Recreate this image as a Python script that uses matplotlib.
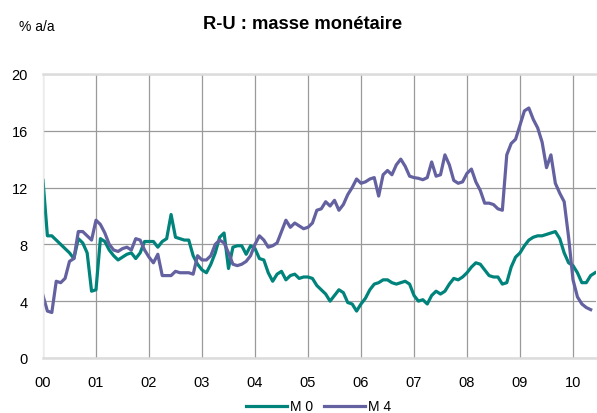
# R-U : masse monétaire (M0 et M4, % a/a)

import numpy as np
import matplotlib.pyplot as plt

plt.rcParams['font.family'] = ['Liberation Sans', 'DejaVu Sans']

# Monthly growth rates, Jan 2000 onwards (% a/a)
m0 = [12.5, 8.6, 8.6, 8.3, 8.0, 7.7, 7.4, 7.0, 8.4, 8.1, 7.4, 4.7,   # 2000
      4.8, 8.4, 8.2, 7.6, 7.2, 6.9, 7.1, 7.3, 7.4, 7.0, 7.4, 8.2,    # 2001
      8.2, 8.2, 7.8, 8.2, 8.4, 10.1, 8.5, 8.4, 8.3, 8.3, 7.2, 6.6,   # 2002
      6.2, 6.0, 6.6, 7.4, 8.5, 8.8, 6.3, 7.8, 7.9, 7.9, 7.3, 7.9,    # 2003
      7.7, 7.0, 6.9, 6.0, 5.4, 5.9, 6.1, 5.5, 5.8, 5.9, 5.6, 5.7,    # 2004
      5.7, 5.6, 5.1, 4.8, 4.5, 4.0, 4.4, 4.8, 4.6, 3.9, 3.8, 3.3,    # 2005
      3.8, 4.2, 4.8, 5.2, 5.3, 5.5, 5.5, 5.3, 5.2, 5.3, 5.4, 5.2,    # 2006
      4.4, 4.0, 4.1, 3.8, 4.4, 4.7, 4.5, 4.7, 5.2, 5.6, 5.5, 5.7,    # 2007
      6.0, 6.4, 6.7, 6.6, 6.2, 5.8, 5.7, 5.7, 5.2, 5.3, 6.4, 7.1,    # 2008
      7.4, 7.9, 8.3, 8.5, 8.6, 8.6, 8.7, 8.8, 8.9, 8.4, 7.4, 6.7,    # 2009
      6.5, 6.0, 5.3, 5.3, 5.8, 6.0]                                  # 2010

m4 = [4.4, 3.3, 3.2, 5.4, 5.3, 5.6, 6.8, 7.0, 8.9, 8.9, 8.6, 8.3,    # 2000
      9.7, 9.4, 8.8, 8.0, 7.6, 7.5, 7.7, 7.8, 7.6, 8.4, 8.3, 7.6,    # 2001
      7.1, 6.7, 7.3, 5.8, 5.8, 5.8, 6.1, 6.0, 6.0, 6.0, 5.9, 7.2,    # 2002
      6.9, 6.9, 7.2, 8.0, 8.3, 8.1, 7.4, 6.6, 6.5, 6.6, 6.8, 7.2,    # 2003
      8.0, 8.6, 8.3, 7.8, 7.9, 8.1, 8.9, 9.7, 9.2, 9.5, 9.3, 9.1,    # 2004
      9.2, 9.5, 10.4, 10.5, 11.0, 10.7, 11.1, 10.4, 10.8, 11.5, 12.0, 12.6,  # 2005
      12.3, 12.4, 12.6, 12.7, 11.4, 12.9, 13.2, 12.9, 13.6, 14.0, 13.5, 12.8,  # 2006
      12.7, 12.65, 12.55, 12.7, 13.8, 12.8, 12.9, 14.3, 13.6, 12.5, 12.3, 12.4,  # 2007
      13.0, 13.3, 12.4, 11.8, 10.9, 10.9, 10.8, 10.5, 10.4, 14.3, 15.1, 15.4,  # 2008
      16.4, 17.4, 17.6, 16.8, 16.2, 15.2, 13.4, 14.3, 12.3, 11.6, 11.0, 8.5,   # 2009
      5.5, 4.3, 3.8, 3.55, 3.4]                                       # 2010

year_labels = ['00', '01', '02', '03', '04', '05', '06', '07', '08', '09', '10']
y_ticks = [0, 4, 8, 12, 16, 20]

teal = '#00837B'
purple = '#6461A0'

t0 = 2000 + np.arange(len(m0)) / 12
t4 = 2000 + np.arange(len(m4)) / 12

fig = plt.figure(figsize=(5.97, 4.14), dpi=100)
ax = fig.add_axes([0.072, 0.133, 0.926, 0.686])

ax.plot(t0, m0, color=teal, lw=2.3, label='M 0', solid_joinstyle='round')
ax.plot(t4, m4, color=purple, lw=2.3, label='M 4', solid_joinstyle='round')

ax.set_xlim(2000, 2010.43)
ax.set_ylim(0, 20)
ax.set_xticks(2000 + np.arange(len(year_labels)))
ax.set_xticklabels(year_labels)
ax.set_yticks(y_ticks)

# grid: gray lines, light frame at top / bottom / left
ax.grid(True, color='#9a9a9a', lw=0.9)
ax.set_axisbelow(True)
ax.tick_params(length=0, labelsize=10.5, colors='black')
ax.tick_params(axis='x', pad=12.5)
ax.tick_params(axis='y', pad=11)
ax.spines['right'].set_visible(False)
ax.spines['top'].set_color('#dcdcdc')
ax.spines['top'].set_linewidth(1.8)
ax.spines['bottom'].set_color('#dcdcdc')
ax.spines['bottom'].set_linewidth(1.8)
ax.spines['left'].set_color('#ebebeb')
ax.spines['left'].set_linewidth(1.0)

fig.text(0.506, 0.94, 'R-U : masse monétaire', ha='center', va='center',
         fontsize=13.2, fontweight='bold')
fig.text(0.032, 0.935, '% a/a', ha='left', va='center', fontsize=10)

fig.legend(loc='center', bbox_to_anchor=(0.533, 0.016), ncol=2, frameon=False,
           fontsize=10, handlelength=3.0, columnspacing=0.8, handletextpad=0.15)

fig.savefig('out.png', dpi=100)
